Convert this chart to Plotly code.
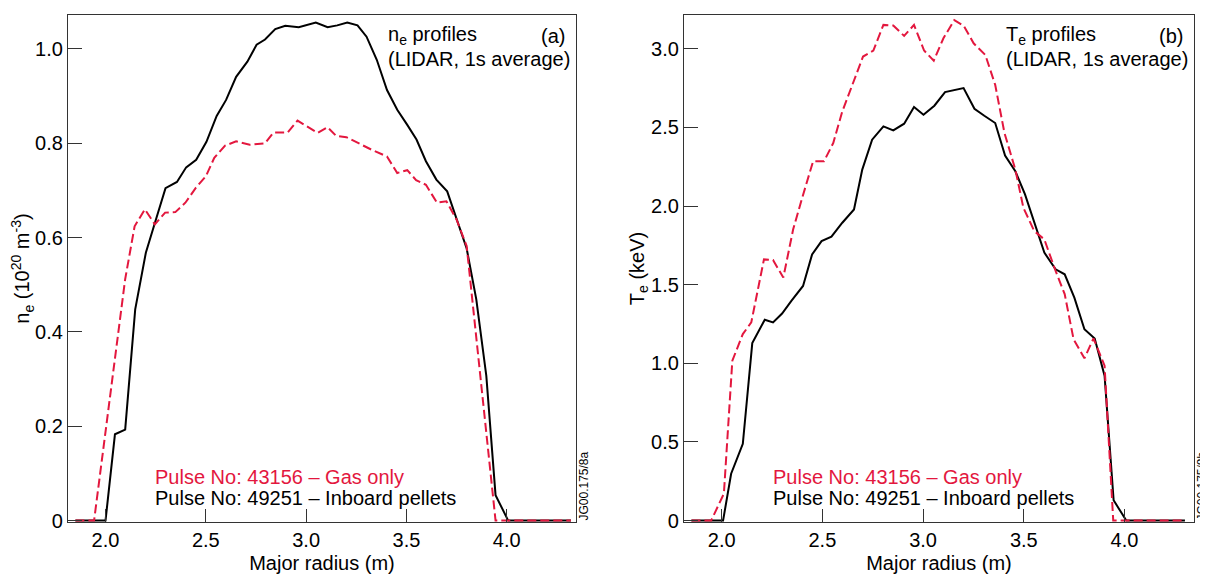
import plotly.graph_objects as go

# ---------------- data ----------------
# (a) electron density profiles, 10^20 m^-3
ne_pellets_r = [1.85, 2.00, 2.047, 2.098, 2.148, 2.201, 2.246, 2.299, 2.356, 2.402, 2.452, 2.503,
                2.554, 2.601, 2.651, 2.707, 2.753, 2.795, 2.846, 2.896, 2.963, 3.048, 3.107, 3.155,
                3.205, 3.256, 3.301, 3.352, 3.403, 3.454, 3.504, 3.550, 3.597, 3.649, 3.703, 3.750,
                3.800, 3.848, 3.898, 3.944, 4.007, 4.32]
ne_pellets = [0, 0, 0.183, 0.193, 0.448, 0.568, 0.631, 0.705, 0.718, 0.749, 0.765, 0.803,
              0.858, 0.892, 0.941, 0.973, 1.009, 1.020, 1.042, 1.049, 1.046, 1.056, 1.046, 1.050,
              1.056, 1.050, 1.026, 0.977, 0.913, 0.871, 0.839, 0.808, 0.762, 0.723, 0.698, 0.638,
              0.577, 0.469, 0.307, 0.054, 0, 0]

ne_gas_r = [1.85, 1.943, 2.098, 2.145, 2.196, 2.246, 2.297, 2.348, 2.398, 2.449, 2.500, 2.542,
            2.596, 2.651, 2.719, 2.795, 2.837, 2.908, 2.957, 3.058, 3.107, 3.149, 3.200, 3.261,
            3.328, 3.403, 3.454, 3.504, 3.548, 3.597, 3.652, 3.699, 3.750, 3.800, 3.817, 3.944, 4.32]
ne_gas = [0, 0, 0.512, 0.624, 0.660, 0.628, 0.653, 0.654, 0.674, 0.705, 0.730, 0.769,
          0.795, 0.804, 0.797, 0.800, 0.823, 0.823, 0.848, 0.822, 0.834, 0.816, 0.813, 0.800,
          0.786, 0.772, 0.737, 0.743, 0.722, 0.712, 0.674, 0.677, 0.638, 0.582, 0.512, 0, 0]

# (b) electron temperature profiles, keV
te_pellets_r = [1.85, 2.007, 2.047, 2.105, 2.152, 2.214, 2.255, 2.300, 2.346, 2.404, 2.449, 2.496,
                2.545, 2.599, 2.657, 2.698, 2.747, 2.803, 2.852, 2.906, 2.955, 3.002, 3.056, 3.109,
                3.201, 3.255, 3.304, 3.358, 3.407, 3.458, 3.506, 3.557, 3.602, 3.658, 3.703, 3.751,
                3.801, 3.852, 3.901, 3.946, 4.009, 4.30]
te_pellets = [0, 0, 0.298, 0.488, 1.129, 1.277, 1.260, 1.317, 1.397, 1.492, 1.693, 1.777,
              1.805, 1.894, 1.978, 2.232, 2.422, 2.507, 2.481, 2.524, 2.630, 2.581, 2.638, 2.725,
              2.750, 2.619, 2.574, 2.528, 2.321, 2.221, 2.074, 1.873, 1.704, 1.598, 1.566, 1.418,
              1.217, 1.158, 0.921, 0.129, 0, 0]

te_gas_r = [1.85, 1.948, 2.011, 2.053, 2.105, 2.147, 2.210, 2.255, 2.306, 2.355, 2.400, 2.454,
            2.508, 2.554, 2.599, 2.653, 2.702, 2.753, 2.803, 2.852, 2.906, 2.955, 3.005, 3.053,
            3.101, 3.155, 3.202, 3.251, 3.309, 3.358, 3.404, 3.458, 3.498, 3.552, 3.602, 3.658,
            3.703, 3.747, 3.801, 3.846, 3.901, 3.944, 4.30]
te_gas = [0, 0, 0.171, 1.017, 1.186, 1.260, 1.661, 1.657, 1.545, 1.852, 2.053, 2.285,
          2.285, 2.401, 2.602, 2.792, 2.951, 2.989, 3.152, 3.148, 3.082, 3.152, 2.989, 2.925,
          3.067, 3.183, 3.146, 3.035, 2.961, 2.771, 2.465, 2.232, 1.989, 1.841, 1.788, 1.587,
          1.440, 1.154, 1.032, 1.158, 0.985, 0, 0]

x_ticks = [2.0, 2.5, 3.0, 3.5, 4.0]
x_ticklabels = ["2.0", "2.5", "3.0", "3.5", "4.0"]
ne_ticks = [0, 0.2, 0.4, 0.6, 0.8, 1.0]
ne_ticklabels = ["0", "0.2", "0.4", "0.6", "0.8", "1.0"]
te_ticks = [0, 0.5, 1.0, 1.5, 2.0, 2.5, 3.0]
te_ticklabels = ["0", "0.5", "1.0", "1.5", "2.0", "2.5", "3.0"]

label_gas = "Pulse No: 43156 – Gas only"
label_pellets = "Pulse No: 49251 – Inboard pellets"

# ---------------- style ----------------
RED = "#e3173e"
BLACK = "#000000"
AXC = "#333333"
FONT = "Liberation Sans, Arial, sans-serif"
# the page body adds an 8px margin, so the figure is sized to fill the rest of the window
BODY = 8
WIN_W, WIN_H = 1208, 574
W, H = WIN_W - BODY, WIN_H - BODY
# plot box on screen: x 68..1194, y 15..522
SL, SR, ST, SB = 68, 1194, 15, 522
ML, MT = SL - BODY, ST - BODY
MR, MB = WIN_W - SR, WIN_H - SB
PW, PH = SR - SL, SB - ST


def px(sx):
    return (sx - SL) / PW


def py(sy):
    return (SB - sy) / PH


fig = go.Figure()
line_black = dict(color=BLACK, width=2)
line_red = dict(color=RED, width=2, dash="9px,4px")

fig.add_trace(go.Scatter(x=ne_pellets_r, y=ne_pellets, mode="lines", line=line_black,
                         xaxis="x", yaxis="y", showlegend=False))
fig.add_trace(go.Scatter(x=ne_gas_r, y=ne_gas, mode="lines", line=line_red,
                         xaxis="x", yaxis="y", showlegend=False))
fig.add_trace(go.Scatter(x=te_pellets_r, y=te_pellets, mode="lines", line=line_black,
                         xaxis="x2", yaxis="y2", showlegend=False))
fig.add_trace(go.Scatter(x=te_gas_r, y=te_gas, mode="lines", line=line_red,
                         xaxis="x2", yaxis="y2", showlegend=False))

xcommon = dict(range=[1.813, 4.345], tickvals=x_ticks, ticktext=x_ticklabels,
               ticks="inside", ticklen=13, tickwidth=1, tickcolor=AXC,
               showline=True, linecolor=AXC, linewidth=1.3, mirror=True,
               showgrid=False, zeroline=False, automargin=False,
               tickfont=dict(size=20, color="#000"),
               title=dict(text="Major radius (m)", font=dict(size=20, color="#000"), standoff=6))
ycommon = dict(ticks="inside", ticklen=14, tickwidth=1, tickcolor=AXC,
               showline=True, linecolor=AXC, linewidth=1.3, mirror=True,
               showgrid=False, zeroline=False, automargin=False,
               tickfont=dict(size=20, color="#000"))

left_r = (576 - SL) / PW
right_l = (684 - SL) / PW

fig.update_layout(
    template="none",
    width=W, height=H,
    margin=dict(l=ML, r=MR, t=MT, b=MB, pad=0),
    paper_bgcolor="white", plot_bgcolor="white",
    font=dict(family=FONT, size=20, color="#000"),
    xaxis=dict(domain=[0, left_r], anchor="y", **xcommon),
    xaxis2=dict(domain=[right_l, 1], anchor="y2", **xcommon),
    yaxis=dict(domain=[0, 1], anchor="x", range=[-0.003, 1.072],
               tickvals=ne_ticks, ticktext=ne_ticklabels,
               title=dict(text="n<sub>e</sub> (10<sup>20</sup> m<sup>-3</sup>)",
                          font=dict(size=20), standoff=2),
               **ycommon),
    yaxis2=dict(domain=[0, 1], anchor="x2", range=[-0.009, 3.215],
                tickvals=te_ticks, ticktext=te_ticklabels,
                title=dict(text="T<sub>e</sub> (keV)", font=dict(size=20), standoff=0),
                **ycommon),
)

ann = []
for (lx, tag, head, code) in [(576, "(a)", "n<sub>e</sub> profiles", "JG00.175/8a"),
                              (1194, "(b)", "T<sub>e</sub> profiles", "JG00.175/8b")]:
    text_left = lx - 190
    ann.append(dict(text=head, x=px(text_left), y=py(36), xanchor="left", yanchor="middle"))
    ann.append(dict(text=tag, x=px(lx - 9), y=py(36), xanchor="right", yanchor="middle"))
    ann.append(dict(text="(LIDAR, 1s average)", x=px(text_left), y=py(59),
                    xanchor="left", yanchor="middle"))
    leg_left = lx - 508 + 85
    ann.append(dict(text=label_gas, x=px(leg_left), y=py(477), xanchor="left",
                    yanchor="middle", font=dict(color=RED, size=20)))
    ann.append(dict(text=label_pellets, x=px(leg_left), y=py(498), xanchor="left",
                    yanchor="middle", font=dict(color="#000", size=20)))
    ann.append(dict(text=code, x=px(lx + 7), y=py(523), xanchor="center", yanchor="bottom",
                    textangle=-90, font=dict(size=12, color="#000")))

for a in ann:
    a.update(xref="paper", yref="paper", showarrow=False)
    a.setdefault("font", dict(size=20, color="#000"))
fig.update_layout(annotations=ann)

fig.write_html("out.html")
